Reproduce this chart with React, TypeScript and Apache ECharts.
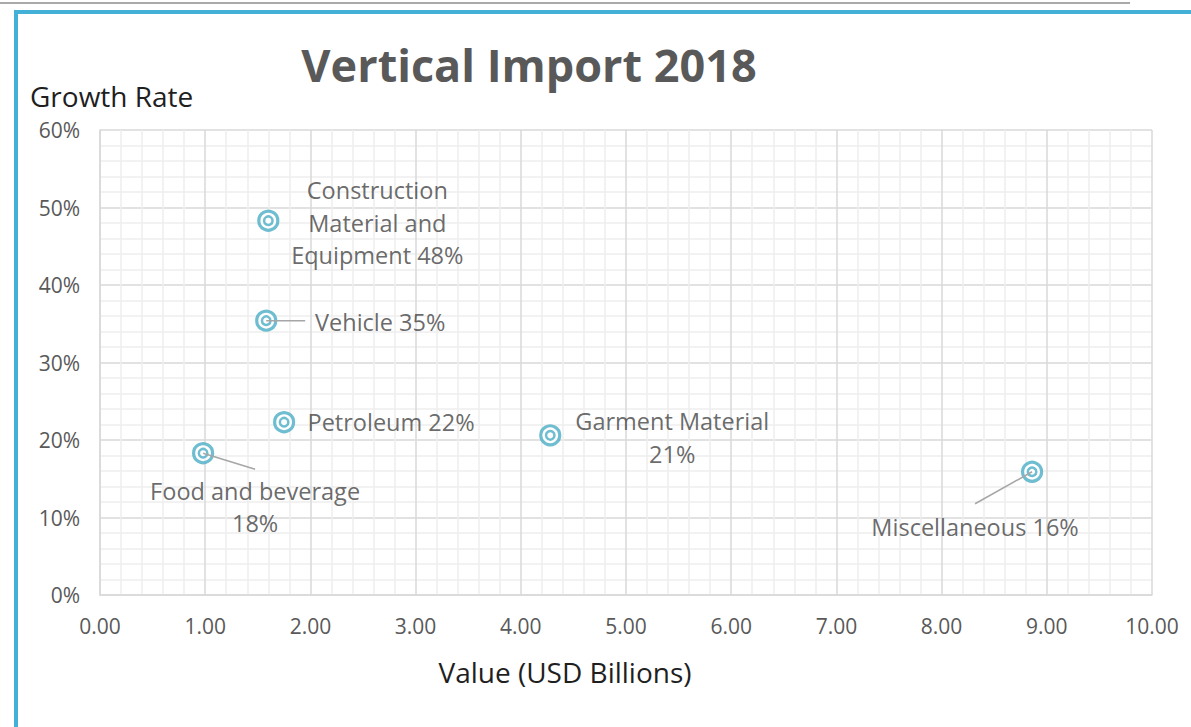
import React, { useEffect, useRef } from "react";
import * as echarts from "echarts";

const categories = [
  "Construction\nMaterial and\nEquipment",
  "Vehicle",
  "Petroleum",
  "Garment Material",
  "Food and beverage",
  "Miscellaneous",
];
const labelSeparators = [" ", " ", " ", "\n", "\n", " "];
const valuesUSD = [1.6, 1.58, 1.75, 4.28, 0.98, 8.86];
const growthRates = [48.3, 35.4, 22.3, 20.6, 18.3, 15.9];
const showLeader = [false, true, false, false, true, true];

// label layout offsets (pixels, relative to marker centre)
const labelDx = [109, 114, 107, 122, 52, -57];
const labelDy = [2, 1, 0, 2, 54, 55];
const leaderDx = [0, 39, 0, 0, 52, -57];
const leaderDy = [0, 0, 0, 0, 16, 32];

const FONT = "'Open Sans', 'Noto Sans', sans-serif";
const MARK = "#4BACC6";

export default function App() {
  const ref = useRef<HTMLDivElement>(null);
  useEffect(() => {
    document.body.style.margin = "0";
    const chart = echarts.init(ref.current!, null, { renderer: "svg" });
    const pts = valuesUSD.map((v, i) => ({
      name: categories[i],
      value: [v, growthRates[i]],
    }));
    chart.setOption({
      animation: false,
      backgroundColor: "#ffffff",
      textStyle: { fontFamily: FONT },
      graphic: [
        { type: "rect", shape: { x: 0, y: 2, width: 1130, height: 2 }, style: { fill: "#a9a9a9" }, silent: true },
        { type: "rect", shape: { x: 14, y: 10, width: 1177, height: 4 }, style: { fill: "#43B0D7" }, silent: true },
        { type: "rect", shape: { x: 14, y: 10, width: 4, height: 717 }, style: { fill: "#43B0D7" }, silent: true },
        {
          type: "text",
          x: 529,
          y: 64,
          style: {
            text: "Vertical Import 2018",
            align: "center",
            verticalAlign: "middle",
            font: `bold 45px ${FONT}`,
            fill: "#595959",
          },
        },
        {
          type: "text",
          x: 30,
          y: 96,
          style: {
            text: "Growth Rate",
            align: "left",
            verticalAlign: "middle",
            font: `28px ${FONT}`,
            fill: "#1f1f1f",
          },
        },
        {
          type: "text",
          x: 565,
          y: 672,
          style: {
            text: "Value (USD Billions)",
            align: "center",
            verticalAlign: "middle",
            font: `28px ${FONT}`,
            fill: "#1f1f1f",
          },
        },
      ],
      grid: { left: 100, top: 130, right: 39, bottom: 132 },
      xAxis: {
        type: "value",
        min: 0,
        max: 10,
        interval: 1,
        axisLine: { show: true, lineStyle: { color: "#d9d9d9", width: 1.5 } },
        axisTick: { show: false },
        axisLabel: {
          color: "#595959",
          fontSize: 21,
          margin: 20,
          fontFamily: FONT,
          formatter: (v: number) => v.toFixed(2),
        },
        splitLine: { show: true, lineStyle: { color: "#d9d9d9", width: 1.5 } },
        minorTick: { show: false, splitNumber: 5 },
        minorSplitLine: { show: true, lineStyle: { color: "#eeeeee", width: 1.5 } },
      },
      yAxis: {
        type: "value",
        min: 0,
        max: 60,
        interval: 10,
        axisLine: { show: true, lineStyle: { color: "#d9d9d9", width: 1.5 } },
        axisTick: { show: false },
        axisLabel: {
          color: "#595959",
          fontSize: 21,
          margin: 20,
          fontFamily: FONT,
          formatter: "{value}%",
        },
        splitLine: { show: true, lineStyle: { color: "#d9d9d9", width: 1.5 } },
        minorTick: { show: false, splitNumber: 5 },
        minorSplitLine: { show: true, lineStyle: { color: "#eeeeee", width: 1.5 } },
      },
      series: [
        {
          type: "scatter",
          z: 3,
          symbol: "circle",
          symbolSize: 19,
          itemStyle: { color: "#ffffff", borderColor: MARK, borderWidth: 3.2 },
          data: pts,
          label: { show: false },
        },
        {
          type: "scatter",
          z: 4,
          symbol: "circle",
          symbolSize: 8.5,
          itemStyle: { color: "#ffffff", borderColor: MARK, borderWidth: 2.5 },
          data: pts,
          label: {
            show: true,
            position: "inside",
            align: "center",
            verticalAlign: "middle",
            color: "#444444",
            fontSize: 23.5,
            lineHeight: 32.5,
            fontFamily: FONT,
            formatter: (p: any) =>
              `${categories[p.dataIndex]}${labelSeparators[p.dataIndex]}${Math.round(growthRates[p.dataIndex])}%`,
          },
          labelLayout: (p: any) => ({ dx: labelDx[p.dataIndex], dy: labelDy[p.dataIndex] }),
        },
        {
          type: "custom",
          z: 5,
          silent: true,
          data: pts,
          renderItem: (params: any, api: any) => {
            const i = params.dataIndex;
            if (!showLeader[i]) return null;
            const c = api.coord([api.value(0), api.value(1)]);
            return {
              type: "line",
              shape: { x1: c[0], y1: c[1], x2: c[0] + leaderDx[i], y2: c[1] + leaderDy[i] },
              style: { stroke: "#a6a6a6", lineWidth: 1.5 },
            };
          },
        },
      ],
    });
    return () => chart.dispose();
  }, []);
  return <div ref={ref} style={{ width: 1191, height: 727 }} />;
}
